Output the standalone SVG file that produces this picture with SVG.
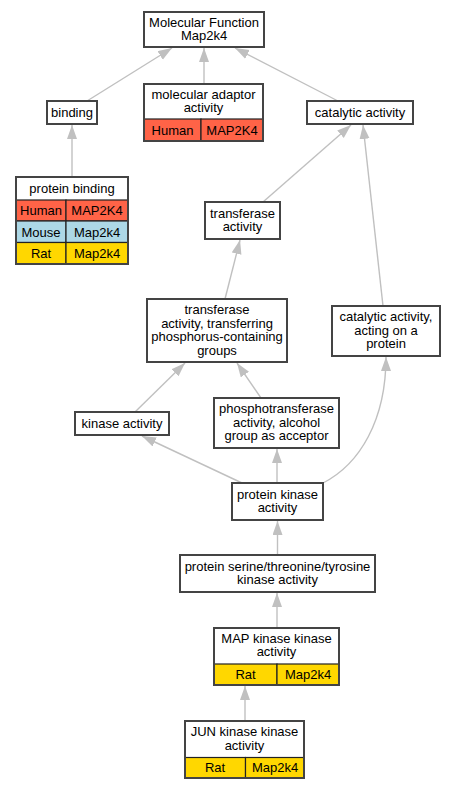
<svg xmlns="http://www.w3.org/2000/svg" width="456" height="789" viewBox="0 0 456 789">
<defs>
<style>
.box{fill:#fff;stroke:#444;stroke-width:2}
.cell{stroke:#222;stroke-width:1.2}
.h{fill:#ff6347}.m{fill:#add8e6}.r{fill:#ffd700}
text{font-family:"Liberation Sans",Arial,sans-serif;font-size:13px;fill:#000;text-anchor:middle}
.e{fill:none;stroke:#c0c0c0;stroke-width:1.4;marker-end:url(#a)}
</style>
<marker id="a" markerUnits="userSpaceOnUse" markerWidth="15" markerHeight="11" refX="14" refY="5" orient="auto">
<path d="M0,0 L14,5 L0,10 z" fill="#c0c0c0"/>
</marker>
</defs>
<g id="edges">
<path class="e" d="M87,101 L172,48"/>
<path class="e" d="M204,84 L204,48"/>
<path class="e" d="M338,101 L235,48"/>
<path class="e" d="M72,177 L72,125"/>
<path class="e" d="M263,202 L351,125"/>
<path class="e" d="M383,306 L363,125"/>
<path class="e" d="M225,299 L240,240"/>
<path class="e" d="M135,412 L185,363"/>
<path class="e" d="M261,398 L237,363"/>
<path class="e" d="M242,483 L142,436"/>
<path class="e" d="M277,483 L277,449"/>
<path class="e" d="M323,483 C360,464 386,420 386,357"/>
<path class="e" d="M277.5,555 L277.5,521"/>
<path class="e" d="M277,628 L277,593"/>
<path class="e" d="M245,721 L245,686"/>
</g>
<g id="mf">
<rect class="box" x="144" y="12" width="120" height="35"/>
<text x="204" y="26.5">Molecular Function</text>
<text x="204" y="39.9">Map2k4</text>
</g>
<g id="binding">
<rect class="box" x="47" y="101" width="50" height="23"/>
<text x="72" y="117">binding</text>
</g>
<g id="adaptor">
<rect class="box" x="144" y="84" width="119" height="57"/>
<rect class="cell h" x="144" y="119" width="57" height="22"/>
<rect class="cell h" x="201" y="119" width="62" height="22"/>
<rect x="144" y="84" width="119" height="57" fill="none" stroke="#444" stroke-width="2"/>
<text x="203.5" y="98.5">molecular adaptor</text>
<text x="203.5" y="111.9">activity</text>
<text x="172.5" y="134.5">Human</text>
<text x="232" y="134.5">MAP2K4</text>
</g>
<g id="catalytic">
<rect class="box" x="307" y="101" width="106" height="23"/>
<text x="360" y="117">catalytic activity</text>
</g>
<g id="proteinbinding">
<rect class="box" x="16" y="177" width="112" height="87"/>
<rect class="cell h" x="16" y="200" width="50" height="21"/>
<rect class="cell h" x="66" y="200" width="62" height="21"/>
<rect class="cell m" x="16" y="221" width="50" height="21.5"/>
<rect class="cell m" x="66" y="221" width="62" height="21.5"/>
<rect class="cell r" x="16" y="242.5" width="50" height="21.5"/>
<rect class="cell r" x="66" y="242.5" width="62" height="21.5"/>
<rect x="16" y="177" width="112" height="87" fill="none" stroke="#444" stroke-width="2"/>
<text x="72" y="193">protein binding</text>
<text x="41" y="215">Human</text>
<text x="97" y="215">MAP2K4</text>
<text x="41" y="236.5">Mouse</text>
<text x="97" y="236.5">Map2k4</text>
<text x="41" y="258">Rat</text>
<text x="97" y="258">Map2k4</text>
</g>
<g id="transferase">
<rect class="box" x="205" y="202" width="75" height="37"/>
<text x="242.5" y="217.5">transferase</text>
<text x="242.5" y="230.9">activity</text>
</g>
<g id="tpp">
<rect class="box" x="147" y="299" width="140" height="63"/>
<text x="217" y="314.3">transferase</text>
<text x="217" y="327.7">activity, transferring</text>
<text x="217" y="341.1">phosphorus-containing</text>
<text x="217" y="354.5">groups</text>
</g>
<g id="cap">
<rect class="box" x="332" y="306" width="108" height="50"/>
<text x="386" y="321.3">catalytic activity,</text>
<text x="386" y="334.7">acting on a</text>
<text x="386" y="348.1">protein</text>
</g>
<g id="kinase">
<rect class="box" x="75" y="412" width="94" height="23"/>
<text x="122" y="428">kinase activity</text>
</g>
<g id="phospho">
<rect class="box" x="214" y="398" width="125" height="50"/>
<text x="276.5" y="413.3">phosphotransferase</text>
<text x="276.5" y="426.7">activity, alcohol</text>
<text x="276.5" y="440.1">group as acceptor</text>
</g>
<g id="pk">
<rect class="box" x="232" y="483" width="91" height="37"/>
<text x="277.5" y="498.5">protein kinase</text>
<text x="277.5" y="511.9">activity</text>
</g>
<g id="pstt">
<rect class="box" x="180" y="555" width="195" height="37"/>
<text x="277.5" y="570.5">protein serine/threonine/tyrosine</text>
<text x="277.5" y="583.9">kinase activity</text>
</g>
<g id="mapkk">
<rect class="box" x="214" y="628" width="125" height="57"/>
<rect class="cell r" x="214" y="664" width="63" height="21"/>
<rect class="cell r" x="277" y="664" width="62" height="21"/>
<rect x="214" y="628" width="125" height="57" fill="none" stroke="#444" stroke-width="2"/>
<text x="276.5" y="643">MAP kinase kinase</text>
<text x="276.5" y="656.4">activity</text>
<text x="245.5" y="679">Rat</text>
<text x="308" y="679">Map2k4</text>
</g>
<g id="jun">
<rect class="box" x="185" y="721" width="119" height="57"/>
<rect class="cell r" x="185" y="757.5" width="60.5" height="20.5"/>
<rect class="cell r" x="245.5" y="757.5" width="58.5" height="20.5"/>
<rect x="185" y="721" width="119" height="57" fill="none" stroke="#444" stroke-width="2"/>
<text x="244.5" y="736.2">JUN kinase kinase</text>
<text x="244.5" y="749.6">activity</text>
<text x="215" y="772.2">Rat</text>
<text x="275" y="772.2">Map2k4</text>
</g>
</svg>
